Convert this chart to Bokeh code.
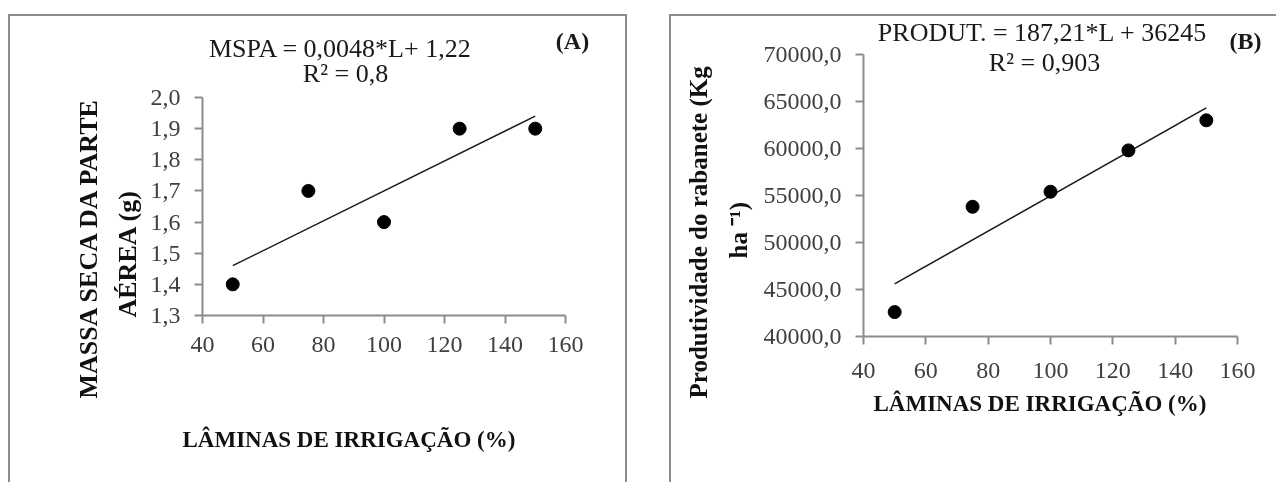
from bokeh.plotting import figure
from bokeh.models import Label, FixedTicker, Range1d, Title
from bokeh.embed import file_html
from bokeh.resources import INLINE

# ---------------- data ----------------
laminas = [50, 75, 100, 125, 150]
mspa = [1.4, 1.7, 1.6, 1.9, 1.9]
produt = [42600, 53800, 55400, 59800, 63000]

mspa_slope, mspa_intercept = 0.0048, 1.22
produt_slope, produt_intercept = 187.21, 36245

x_ticks = [40, 60, 80, 100, 120, 140, 160]
mspa_ticks = [1.3, 1.4, 1.5, 1.6, 1.7, 1.8, 1.9, 2.0]
mspa_tick_labels = ["1,3", "1,4", "1,5", "1,6", "1,7", "1,8", "1,9", "2,0"]
produt_ticks = [40000, 45000, 50000, 55000, 60000, 65000, 70000]
produt_tick_labels = ["40000,0", "45000,0", "50000,0", "55000,0", "60000,0", "65000,0", "70000,0"]

title_a = "MSPA = 0,0048*L+ 1,22"
r2_a = "R² = 0,8"
title_b = "PRODUT. = 187,21*L + 36245"
r2_b = "R² = 0,903"
xlabel = "LÂMINAS  DE IRRIGAÇÃO  (%)"
ylabel_a = ["MASSA SECA DA PARTE", "AÉREA  (g)"]
ylabel_b = ["Produtividade  do  rabanete (Kg", "ha ⁻¹)"]

SERIF = "Liberation Serif"
AXIS_COLOR = "#8c8c8c"
H = 515   # panels run past the bottom of the window, as in the reference


def panel(width, left_px, x0_px, x1_px, bottom_px, top_px, xlim, ylim, css):
    """Frame starts at left_px and reaches the top/right of the canvas; the
    axis values xlim/ylim sit at the given pixel positions (canvas coords)."""
    xs = (x1_px - x0_px) / (xlim[1] - xlim[0])
    ys = (bottom_px - top_px) / (ylim[1] - ylim[0])
    xr = Range1d(xlim[0], xlim[0] + (width - left_px) / xs)
    yr = Range1d(ylim[0], ylim[0] + bottom_px / ys)
    p = figure(width=width, height=H, x_range=xr, y_range=yr,
               output_backend="svg", toolbar_location=None,
               min_border_left=left_px, min_border_right=0, min_border_top=0,
               min_border_bottom=H - bottom_px, styles=css)
    p.background_fill_color = None
    p.border_fill_color = None
    p.outline_line_color = None
    p.xgrid.visible = False
    p.ygrid.visible = False
    return p


def style_axis(ax, ticks, labels, bounds, standoff):
    ax.ticker = FixedTicker(ticks=ticks)
    if labels is not None:
        ax.major_label_overrides = {t: l for t, l in zip(ticks, labels)}
    ax.bounds = bounds
    ax.axis_line_color = AXIS_COLOR
    ax.axis_line_width = 2
    ax.major_tick_line_color = AXIS_COLOR
    ax.major_tick_line_width = 2
    ax.major_tick_in = 0
    ax.major_tick_out = 8
    ax.minor_tick_line_color = None
    ax.major_label_text_font = SERIF
    ax.major_label_text_font_size = "24px"
    ax.major_label_text_color = "#404040"
    ax.major_label_standoff = standoff


def side_title(p, side, text, offset, standoff, size):
    p.add_layout(Title(text=text, align="left", offset=offset, standoff=standoff,
                       text_font=SERIF, text_font_size=size, text_font_style="bold",
                       text_color="#111111"), side)


def add_text(p, x, y, text, size, bold=False):
    p.add_layout(Label(x=x, y=y, x_units="screen", y_units="screen", text=text,
                       text_font=SERIF, text_font_size=size,
                       text_font_style="bold" if bold else "normal",
                       text_color="#1a1a1a", text_align="center",
                       text_baseline="middle"))


xa = [min(laminas), max(laminas)]

# ---------------- panel A ----------------
pa = panel(619, 194, 194, 557, 301, 83, (40, 160), (1.3, 2.0),
           {"position": "fixed", "left": "8px", "top": "14px",
            "box-shadow": "inset 2px 2px 0 #8c8c8c, inset -2px 0 0 #8c8c8c"})
style_axis(pa.xaxis[0], x_ticks, None, (40, 160), 13)
style_axis(pa.yaxis[0], mspa_ticks, mspa_tick_labels, (1.3, 2.0), 14)
pa.line(xa, [mspa_slope * v + mspa_intercept for v in xa], line_color="#1a1a1a", line_width=1.5)
pa.scatter(laminas, mspa, size=13, color="black")
add_text(pa, 138, 267, title_a, "26px")
add_text(pa, 143, 242, r2_a, "26px")
add_text(pa, 370, 275, "(A)", "24px", bold=True)
side_title(pa, "below", xlabel, -20, 140, "23px")
side_title(pa, "left", ylabel_a[1], -2, 12, "26px")
side_title(pa, "left", ylabel_a[0], -83, 3, "26px")

# ---------------- panel B ----------------
pb = panel(607, 194, 194, 568, 322, 40, (40, 160), (40000, 70000),
           {"position": "fixed", "left": "669px", "top": "14px",
            "box-shadow": "inset 2px 2px 0 #8c8c8c"})
style_axis(pb.xaxis[0], x_ticks, None, (40, 160), 18)
style_axis(pb.yaxis[0], produt_ticks, produt_tick_labels, (40000, 70000), 14)
pb.line(xa, [produt_slope * v + produt_intercept for v in xa], line_color="#1a1a1a", line_width=1.5)
pb.scatter(laminas, produt, size=13, color="black")
add_text(pb, 179, 304, title_b, "26px")
add_text(pb, 181, 274, r2_b, "26px")
add_text(pb, 382, 296, "(B)", "24px", bold=True)
side_title(pb, "below", xlabel, 10, 16, "23px")
side_title(pb, "left", ylabel_b[1], 78, 17, "25px")
side_title(pb, "left", ylabel_b[0], -62, 5, "25px")

open("out.html", "w").write(file_html((pa, pb), INLINE))
